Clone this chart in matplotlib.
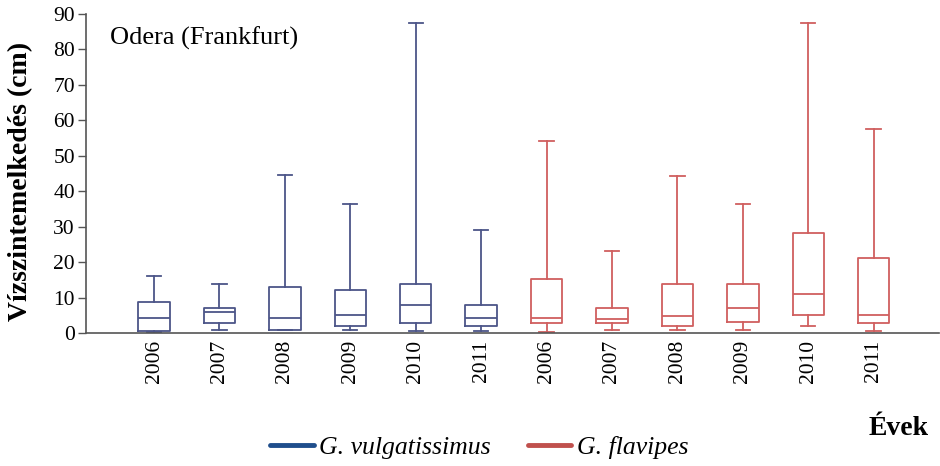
import matplotlib
matplotlib.use("Agg")
import matplotlib.pyplot as plt
from matplotlib.lines import Line2D

plt.rcParams['font.family'] = ['Liberation Serif', 'DejaVu Serif']

years = ["2006", "2007", "2008", "2009", "2010", "2011"]
species = ["G. vulgatissimus", "G. flavipes"]

# five-number summaries per year: whisker low, Q1, median, Q3, whisker high (cm)
vulg_low = [0.2, 0.8, 0.8, 0.8, 0.7, 0.7]
vulg_q1 = [0.6, 2.7, 0.8, 2.0, 2.8, 2.0]
vulg_med = [4.1, 5.8, 4.1, 5.0, 8.0, 4.1]
vulg_q3 = [8.8, 7.1, 13.1, 12.2, 13.9, 8.0]
vulg_high = [16.1, 13.9, 44.5, 36.4, 87.5, 29.1]

flav_low = [0.3, 0.8, 0.8, 0.8, 2.0, 0.7]
flav_q1 = [2.8, 2.8, 1.9, 3.0, 5.0, 2.8]
flav_med = [4.1, 4.0, 4.9, 7.1, 10.9, 5.0]
flav_q3 = [15.2, 7.1, 13.9, 13.9, 28.3, 21.1]
flav_high = [54.2, 23.2, 44.4, 36.4, 87.5, 57.5]

box_colors = ["#4c5588", "#d05f5f"]
legend_colors = ["#1f4e8c", "#c0504d"]


def summaries(low, q1, med, q3, high):
    return [dict(whislo=a, q1=b, med=c, q3=d, whishi=e, fliers=[])
            for a, b, c, d, e in zip(low, q1, med, q3, high)]


fig = plt.figure(figsize=(9.4, 4.66), dpi=100)
ax = fig.add_axes([0.0915, 0.2854, 0.9075, 0.6846])

groups = [
    summaries(vulg_low, vulg_q1, vulg_med, vulg_q3, vulg_high),
    summaries(flav_low, flav_q1, flav_med, flav_q3, flav_high),
]

for g, (stats, col) in enumerate(zip(groups, box_colors)):
    pos = [g * len(years) + i for i in range(len(years))]
    lw = 1.3
    ax.bxp(stats, positions=pos, widths=0.48, capwidths=0.22,
           showfliers=False, manage_ticks=False,
           boxprops=dict(color=col, linewidth=lw),
           whiskerprops=dict(color=col, linewidth=lw),
           capprops=dict(color=col, linewidth=lw),
           medianprops=dict(color=col, linewidth=lw))

n = 2 * len(years)
ax.set_xlim(-1.04, n)
ax.set_ylim(0, 90)
ax.set_yticks(range(0, 91, 10))
ax.set_xticks(range(n))
ax.set_xticklabels(years * 2, rotation=90, fontsize=15.5)
ax.tick_params(axis='y', labelsize=15.5, length=6, width=1, color="#555555", pad=2)
ax.tick_params(axis='x', length=0, pad=5)

for side in ["top", "right"]:
    ax.spines[side].set_visible(False)
for side in ["left", "bottom"]:
    ax.spines[side].set_color("#555555")
    ax.spines[side].set_linewidth(1.2)

ax.set_ylabel("Vízszintemelkedés (cm)", fontsize=20, fontweight="bold")
ax.yaxis.set_label_coords(-0.062, 0.475)
ax.text(0.028, 0.925, "Odera (Frankfurt)", transform=ax.transAxes,
        fontsize=19, ha="left", va="center")

fig.text(0.988, 0.08, "Évek", fontsize=20, fontweight="bold",
         ha="right", va="center")

handles = [Line2D([], [], color=c, linewidth=3.5, solid_capstyle="round")
           for c in legend_colors]
fig.legend(handles, species, loc="center", bbox_to_anchor=(0.5096, 0.04),
           ncol=2, frameon=False, prop=dict(size=18.5, style="italic"),
           handlelength=1.7, handletextpad=0.2, columnspacing=1.45)

fig.savefig("out.png", dpi=100)
